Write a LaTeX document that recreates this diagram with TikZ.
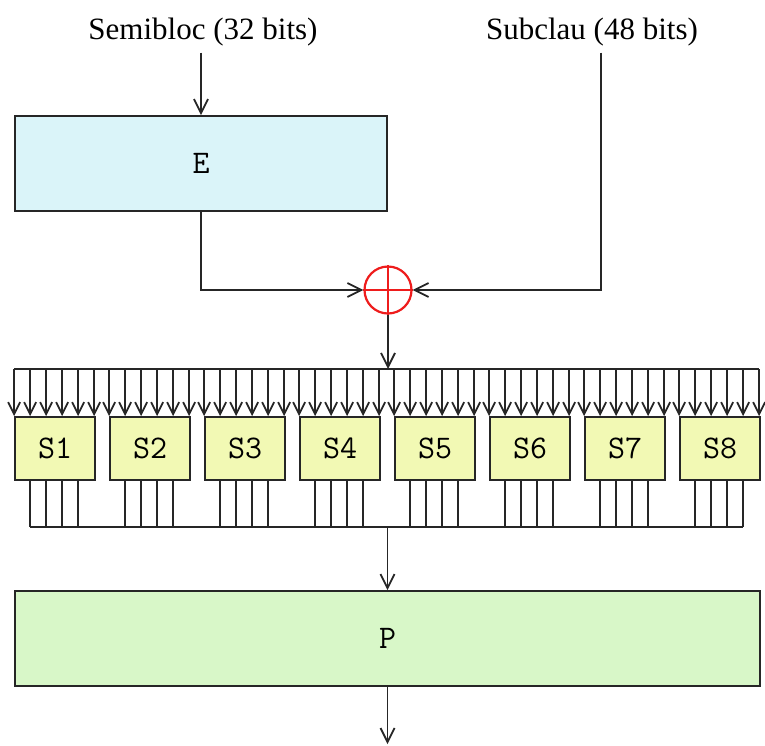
\documentclass[tikz,border=0pt]{standalone}
\usepackage{fontspec}
\setmainfont{Liberation Serif}
\usetikzlibrary{arrows.meta,calc}
\definecolor{fnline}{HTML}{262626}
\definecolor{expfill}{HTML}{DAF4F9}
\definecolor{sboxfill}{HTML}{F2F9B4}
\definecolor{permfill}{HTML}{D8F7C8}
\definecolor{xorred}{HTML}{EE1C1C}

\begin{document}
\begin{tikzpicture}[x=1pt,y=-1pt,line width=1.8pt,color=fnline,
  arr/.style={-{Straight Barb[length=14pt,width=14pt]}},
  busarr/.style={-{Straight Barb[length=12pt,width=12pt]}},
  title/.style={font=\fontsize{31}{37}\selectfont,anchor=base,inner sep=6pt,text=black},
  fnbox/.style={draw=fnline,inner sep=0pt,minimum height=95pt,font=\ttfamily\fontsize{33}{39}\selectfont,text=black},
  sbox/.style={draw=fnline,fill=sboxfill,inner sep=0pt,minimum width=80pt,minimum height=63pt,font=\ttfamily\fontsize{33}{39}\selectfont,text=black}]
\useasboundingbox (0,0) rectangle (765,745);
% inputs
\node[title] (semi) at (203,39) {Semibloc (32 bits)};
\node[title] (subk) at (592,39) {Subclau (48 bits)};
% expansion and key mixing
\node[fnbox,fill=expfill,minimum width=372pt] (ebox) at (201,163.5) {E};
\node[draw=xorred,line width=2.2pt,circle,inner sep=0pt,minimum size=47pt] (xor) at (388,290) {};
\draw[xorred,line width=2.2pt] (xor.north) -- (xor.south) (xor.west) -- (xor.east);
\draw[arr] (semi.south -| ebox.north) -- (ebox.north);
\draw[arr] (ebox.south) |- (xor.west);
\draw[arr] ($(subk.south)+(9,0)$) |- (xor.east);
% s-boxes
\coordinate (bustop) at (388,369);
\coordinate (busout) at (387.5,527);
\foreach \i in {1,...,8}{
  \node[sbox] (sb\i) at ({55+95*(\i-1)},448.5) {S\i};
  \foreach \k in {0,...,5}{
    \path (sb\i.north west) ++(16*\k,0) coordinate (in\i\k);
    \draw[busarr] (in\i\k |- bustop) -- (in\i\k);
  }
  \foreach \k in {1,...,4}{
    \path (sb\i.south west) ++(16*\k,0) coordinate (out\i\k);
    \draw (out\i\k) -- (out\i\k |- busout);
  }
}
\draw (in10 |- bustop) -- (in85 |- bustop);
\draw (out11 |- busout) -- (out84 |- busout);
\draw[arr] (xor.south) -- (bustop);
% permutation
\node[fnbox,fill=permfill,minimum width=745pt] (pbox) at (387.5,638.5) {P};
\coordinate (pout) at (387.5,744);
\draw[arr] (busout) -- (pbox.north);
\draw[arr] (pbox.south) -- (pout);
\end{tikzpicture}
\end{document}
